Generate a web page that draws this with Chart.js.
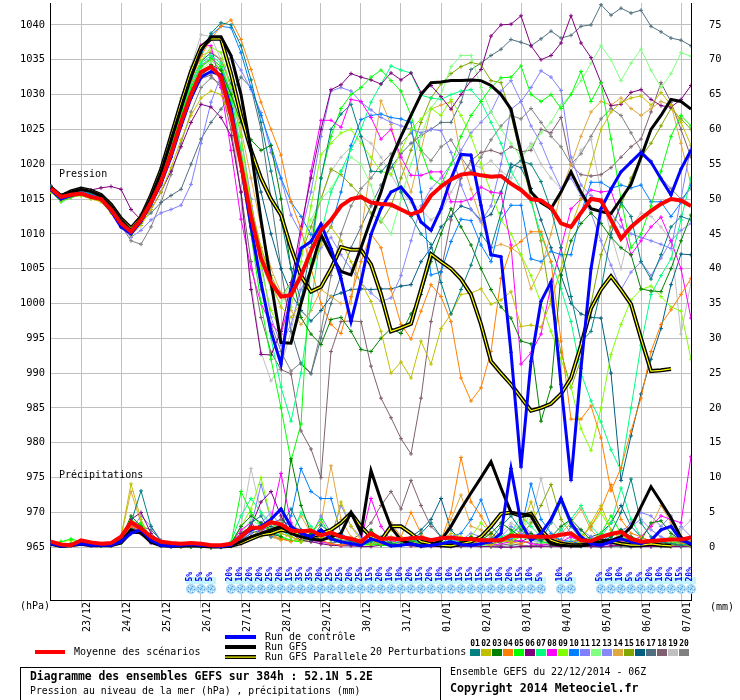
<!DOCTYPE html>
<html><head><meta charset="utf-8">
<script src="https://cdn.jsdelivr.net/npm/chart.js@4.4.1/dist/chart.umd.min.js"></script>
<style>html,body{margin:0;padding:0;background:#fff;}#wrap{width:740px;height:700px;position:relative;}</style>
</head><body><div id="wrap"><canvas id="c" width="740" height="700"></canvas></div>
<script>
// ---- categories (forecast steps, hours from 22/12/2014 06Z) ----
const stepHours = [0,6,12,18,24,30,36,42,48,54,60,66,72,78,84,90,96,102,108,114,120,126,132,138,144,150,156,162,168,174,180,186,192,198,204,210,216,222,228,234,240,246,252,258,264,270,276,282,288,294,300,306,312,318,324,330,336,342,348,354,360,366,372,378,384];
const dayHours = [18,42,66,90,114,138,162,186,210,234,258,282,306,330,354,378];
const dayLabels = ['23/12','24/12','25/12','26/12','27/12','28/12','29/12','30/12','31/12','01/01','02/01','03/01','04/01','05/01','06/01','07/01'];
const pressureTicks = [965,970,975,980,985,990,995,1000,1005,1010,1015,1020,1025,1030,1035,1040];
const precipTicks = [0,5,10,15,20,25,30,35,40,45,50,55,60,65,70,75];
const snowPct = [0,0,0,0,0,0,0,0,0,0,0,0,0,0,5,5,5,0,20,10,20,20,25,20,15,35,35,20,25,25,20,25,15,20,10,10,20,15,20,10,10,15,15,15,15,10,20,15,10,5,0,10,5,0,0,5,10,10,5,5,20,10,20,15,20];

// ---- pressure (hPa) ----
const meanP = [1016.5,1015.3,1015.6,1015.8,1015.3,1015.0,1013.5,1011.5,1010.3,1012.0,
1014.5,1017.5,1021.5,1026.0,1030.0,1033.2,1034.0,1032.5,1027.0,1020.0,
1012.5,1006.5,1003.0,1001.0,1001.2,1004.0,1007.5,1010.5,1012.0,1014.0,
1015.0,1015.3,1014.5,1014.3,1014.2,1013.5,1012.8,1013.3,1015.5,1016.8,
1017.8,1018.5,1018.7,1018.4,1018.2,1018.3,1017.2,1016.3,1015.0,1014.8,
1013.8,1011.5,1011.0,1013.0,1015.0,1014.8,1012.0,1009.3,1011.0,1012.2,
1013.3,1014.3,1015.0,1014.8,1014.0];
const ctrlP = [1016.3,1015.0,1015.5,1015.8,1015.3,1015.0,1013.3,1011.0,1010.0,1011.8,
1014.3,1017.2,1021.0,1025.5,1029.5,1032.5,1033.3,1032.8,1028.0,1020.0,
1011.0,1003.0,996.0,991.3,1001.7,1007.9,1008.9,1011.4,1007.9,1003.6,
997.4,1003.1,1009.9,1013.6,1016.0,1016.7,1015.0,1011.7,1010.5,1013.6,
1017.9,1021.4,1021.3,1014.1,1007.0,1006.7,993.0,976.5,991.7,1000.3,
1003.1,988.4,974.6,990.7,1005.0,1013.6,1016.4,1018.9,1020.3,1021.7,
1020.3,1017.9,1015.6,1019.3,1022.0];
const gfsP = [1016.7,1015.5,1016.0,1016.4,1016.1,1015.5,1014.0,1012.0,1010.5,1012.2,
1015.2,1018.8,1023.4,1028.0,1032.5,1036.3,1038.3,1038.3,1035.6,1030.0,
1022.0,1012.0,1003.0,994.4,994.3,1000.0,1005.0,1009.9,1007.0,1004.6,
1004.1,1008.0,1012.1,1016.0,1020.7,1024.0,1027.0,1030.0,1031.7,1031.8,
1032.0,1032.0,1032.1,1032.0,1031.3,1030.0,1027.9,1021.7,1016.0,1014.5,
1013.6,1016.0,1018.9,1016.0,1013.6,1013.2,1012.9,1015.0,1017.1,1021.0,
1025.0,1027.0,1029.3,1029.0,1027.9];
const parP = [1016.6,1015.4,1016.1,1016.5,1016.2,1015.6,1014.2,1012.2,1010.8,1012.4,
1015.5,1019.2,1024.0,1028.8,1033.3,1036.8,1038.0,1038.0,1033.0,1027.0,
1022.0,1018.0,1015.0,1012.7,1008.0,1004.0,1001.7,1002.4,1005.0,1008.1,
1007.7,1007.7,1005.6,1001.3,996.0,996.5,997.1,1002.0,1007.1,1006.0,
1005.0,1003.5,1001.3,997.0,991.7,990.0,988.4,986.5,984.6,985.0,
985.6,987.0,989.3,994.0,999.3,1002.0,1003.9,1002.0,999.9,995.0,
990.3,990.4,990.6,null,null];
const p01 = [1016.8,1015.2,1015.9,1016.2,1015.8,1015.2,1013.8,1012.0,1010.8,1012.5,
1015.2,1018.5,1023.0,1028.0,1032.5,1036.0,1038.8,1040.3,1040.0,1037.0,
1032.1,1026.0,1019.0,1012.0,1005.0,1000.5,1008.0,1018.0,1025.0,1027.2,
1028.6,1024.0,1019.0,1018.9,1020.5,1016.0,1012.5,1010.0,1008.5,1003.0,
998.5,1002.0,1005.5,1010.0,1008.0,1013.0,1019.5,1020.5,1020.0,1017.5,
1013.5,1008.0,1001.0,994.5,996.0,1002.0,1010.0,1014.5,1012.5,1006.0,
1003.5,1007.0,1011.0,1012.5,1012.0];
const p02 = [1016.0,1014.8,1015.3,1015.5,1015.0,1014.6,1013.0,1011.0,1009.8,1011.2,
1013.5,1016.0,1019.5,1023.5,1027.0,1029.5,1030.5,1030.0,1026.5,1021.0,
1014.0,1008.0,1003.0,999.5,998.0,1000.0,1004.5,1008.5,1011.0,1009.0,
1006.0,1003.0,1000.3,996.0,990.0,991.6,989.3,994.6,991.3,996.4,
998.5,1001.3,1001.5,1002.1,999.9,1000.5,1001.7,996.7,996.9,996.6,
1000.3,1005.0,1011.0,1015.0,1020.0,1025.0,1027.5,1028.9,1029.5,1029.8,
1028.5,1030.3,1028.5,1026.0,1022.7];
const p03 = [1016.3,1015.0,1015.8,1016.5,1016.0,1015.5,1014.0,1011.8,1010.0,1011.5,
1014.0,1017.0,1021.0,1025.5,1029.5,1032.5,1034.3,1033.5,1030.0,1026.0,
1023.5,1022.0,1022.7,1015.0,1005.0,998.0,995.6,994.1,997.7,998.0,
996.0,993.4,993.1,995.0,996.4,995.7,998.5,1001.3,1006.0,1010.0,
1013.6,1011.0,1008.4,1005.0,1002.0,999.5,997.9,994.6,994.2,983.1,
988.0,1004.1,1009.0,1011.5,1013.0,1011.5,1009.5,1008.0,1007.0,1002.1,
1001.8,1001.7,1005.0,1009.0,1012.7];
const p04 = [1016.6,1015.4,1016.0,1016.3,1015.9,1015.3,1013.9,1012.0,1010.6,1012.5,
1015.5,1019.0,1023.5,1028.0,1032.0,1035.5,1038.0,1039.8,1040.7,1037.9,
1033.6,1028.9,1025.0,1021.3,1014.6,1010.7,1005.0,1000.0,997.0,995.7,
1001.0,1006.0,1010.0,1008.0,1002.0,997.0,994.9,998.9,1002.7,1001.0,
997.4,989.3,986.0,987.9,993.1,1003.6,1007.9,1008.9,1010.3,1010.3,
1006.0,994.6,983.4,983.4,985.3,980.7,973.1,976.4,981.7,986.4,
993.1,997.0,999.1,1001.3,1003.6];
const p05 = [1016.0,1014.6,1015.2,1015.6,1015.1,1014.8,1013.2,1011.2,1010.0,1011.8,
1014.6,1018.0,1022.5,1027.0,1031.0,1034.0,1035.2,1034.0,1029.0,1020.0,
1010.0,1000.0,992.0,985.0,977.4,982.7,1006.4,1018.0,1024.0,1028.0,
1030.0,1031.0,1032.5,1033.5,1032.0,1030.5,1027.0,1022.0,1018.0,1017.0,
1020.0,1024.0,1027.0,1029.0,1031.0,1032.4,1032.5,1034.1,1030.0,1029.0,
1030.0,1028.0,1030.0,1033.3,1029.0,1031.7,1023.6,1015.0,1008.0,1010.0,
1014.0,1019.0,1024.0,1027.0,1025.5];
const p06 = [1016.8,1015.5,1016.0,1016.2,1016.3,1016.6,1016.8,1016.4,1013.5,1012.0,
1013.5,1016.0,1019.0,1022.5,1026.0,1028.6,1028.2,1026.7,1024.1,1016.0,
1002.0,992.7,992.6,996.0,1003.0,1011.0,1018.0,1025.0,1030.7,1031.4,
1033.0,1032.5,1032.1,1031.5,1033.1,1032.1,1033.1,1030.3,1031.3,1029.7,
1027.9,1030.0,1032.0,1033.6,1038.4,1040.0,1040.1,1041.3,1037.0,1035.0,
1035.6,1037.4,1041.3,1037.4,1035.3,1031.7,1028.4,1028.6,1030.3,1030.7,
1029.3,1028.4,1028.2,1029.3,1031.3];
const p07 = [1016.2,1014.9,1015.4,1015.7,1015.2,1014.9,1013.4,1011.4,1010.2,1012.0,
1014.8,1018.2,1022.8,1027.5,1031.5,1034.5,1035.6,1034.5,1030.0,1022.0,
1012.0,1003.0,995.0,988.0,983.1,990.0,1000.0,1010.0,1016.0,1019.0,
1022.1,1025.0,1028.9,1031.5,1034.1,1033.5,1033.1,1029.9,1029.5,1029.3,
1030.0,1030.5,1030.7,1029.0,1026.0,1023.0,1019.0,1016.5,1014.6,1009.9,
1006.0,1002.1,997.4,990.0,986.0,983.0,979.0,976.0,985.0,994.0,
1001.3,1004.0,1006.4,1012.0,1018.0];
const p08 = [1016.4,1015.1,1015.7,1016.0,1015.5,1015.1,1013.6,1011.5,1010.2,1012.0,
1015.0,1018.8,1023.5,1028.5,1033.0,1037.1,1037.0,1031.0,1022.0,1012.1,
1005.0,1000.0,997.0,995.6,1001.0,1010.0,1019.0,1026.3,1026.3,1025.3,
1029.3,1029.0,1026.7,1023.6,1025.0,1021.0,1018.4,1018.4,1018.9,1018.9,
1014.6,1014.6,1015.0,1016.7,1016.0,1015.8,1008.4,991.3,992.9,995.6,
1002.6,1008.0,1013.6,1015.0,1016.3,1016.0,1016.2,1012.0,1007.0,1009.0,
1011.0,1012.4,1009.0,1005.0,997.9];
const p09 = [1016.1,1014.8,1015.4,1015.8,1015.3,1014.9,1013.3,1011.3,1010.1,1011.9,
1014.6,1018.0,1022.5,1027.2,1031.5,1034.8,1036.8,1036.0,1031.0,1024.0,
1014.0,1005.0,999.0,996.0,999.5,1006.0,1014.0,1021.4,1023.0,1024.5,
1025.0,1023.0,1021.0,1019.0,1018.5,1022.0,1025.0,1026.5,1028.0,1027.0,
1029.3,1027.0,1024.0,1020.0,1016.0,1012.0,1010.0,1007.0,1004.0,1000.0,
996.0,992.0,988.0,982.0,978.9,985.0,992.7,997.0,1000.5,1002.0,
1002.5,1001.0,999.5,998.9,992.0];
const p10 = [1016.5,1015.2,1015.8,1016.1,1015.7,1015.2,1013.7,1011.8,1010.5,1012.3,
1015.3,1018.8,1023.3,1028.0,1032.3,1035.8,1038.5,1039.8,1039.6,1036.0,
1031.0,1027.0,1022.7,1018.0,1014.6,1012.5,1009.9,1009.0,1011.0,1016.0,
1022.7,1026.4,1027.0,1027.2,1026.7,1026.5,1026.0,1016.0,1004.1,1004.5,
1008.9,1012.1,1011.9,1008.4,1006.0,1012.0,1014.1,1014.1,1006.4,1006.0,
1007.5,1007.0,1007.0,1013.0,1017.4,1017.4,1016.5,1017.0,1016.6,1017.0,
1014.6,1014.6,1012.5,1014.5,1017.0];
const p11 = [1016.2,1015.0,1015.5,1015.8,1015.4,1015.0,1013.5,1011.0,1009.5,1010.5,
1012.0,1013.0,1013.5,1014.1,1017.1,1023.0,1028.9,1032.7,1035.6,1033.5,
1030.7,1027.4,1021.7,1017.9,1012.7,1010.0,1016.0,1024.0,1030.5,1031.0,
1030.5,1028.9,1027.8,1026.7,1026.0,1025.5,1025.0,1024.5,1025.0,1024.8,
1021.7,1017.0,1013.5,1011.7,1014.0,1020.0,1027.9,1029.0,1031.0,1033.4,
1032.5,1030.6,1021.0,1017.0,1015.5,1014.5,1013.0,1011.0,1010.0,1009.5,
1009.0,1008.5,1007.9,1015.0,1022.7];
const p12 = [1016.0,1014.7,1015.3,1015.5,1015.1,1014.7,1013.1,1011.0,1009.8,1011.5,
1014.2,1017.5,1021.8,1026.5,1030.5,1033.5,1034.8,1033.8,1029.5,1022.5,
1013.0,1006.0,1002.0,1000.0,1003.0,1008.0,1012.0,1015.0,1016.5,1019.0,
1021.0,1020.0,1017.0,1012.0,1010.0,1015.0,1020.0,1024.0,1028.0,1030.0,
1034.0,1035.6,1035.6,1031.0,1027.5,1025.0,1023.0,1021.0,1022.5,1024.5,
1026.0,1028.5,1030.0,1032.0,1034.5,1037.0,1035.0,1032.0,1034.5,1036.5,
1033.5,1031.0,1033.0,1036.0,1035.5];
const p13 = [1016.3,1015.1,1015.6,1016.0,1015.6,1015.1,1013.6,1011.6,1010.4,1012.1,
1014.9,1018.3,1022.6,1027.0,1031.0,1034.2,1035.3,1034.0,1030.5,1024.0,
1015.0,1006.0,998.0,994.0,997.0,1002.0,1005.0,1008.0,1009.5,1007.0,
1005.0,1003.0,1001.5,1000.3,1000.8,1004.0,1009.0,1014.0,1016.5,1018.0,
1020.0,1022.0,1024.5,1026.0,1027.5,1030.5,1032.0,1029.0,1025.5,1023.0,
1019.5,1016.5,1018.0,1015.5,1013.0,1009.0,1005.5,1002.0,1004.5,1006.0,
1004.0,1006.5,1009.0,1010.5,1011.5];
const p14 = [1016.5,1015.3,1015.9,1016.4,1016.0,1015.4,1013.9,1011.9,1010.7,1012.6,
1015.4,1019.0,1023.6,1028.3,1032.6,1035.6,1036.2,1035.0,1031.0,1025.0,
1018.0,1011.0,1005.0,1001.5,999.0,997.0,999.0,1002.0,1001.0,1000.0,
1000.0,1010.0,1020.0,1029.1,1025.7,1020.0,1016.0,1022.0,1027.9,1028.5,
1029.0,1021.0,1016.4,1012.0,1008.0,1008.5,1008.0,1007.0,1002.1,1005.0,
1010.0,1016.0,1020.0,1024.0,1027.5,1029.0,1028.5,1029.5,1028.0,1027.0,
1028.0,1029.0,1028.5,1023.0,1017.0];
const p15 = [1016.2,1014.9,1015.4,1015.9,1015.4,1015.0,1013.4,1011.3,1010.0,1011.6,
1014.3,1017.6,1022.0,1026.8,1031.0,1034.0,1035.0,1033.5,1029.0,1022.0,
1014.0,1008.0,1004.0,1001.0,1003.0,1007.0,1011.0,1015.0,1019.3,1018.5,
1017.0,1015.5,1013.0,1011.7,1014.0,1018.0,1022.0,1026.0,1029.5,1031.5,
1033.0,1034.0,1034.6,1034.3,1032.0,1031.7,1027.0,1021.0,1015.0,1009.0,
1000.0,993.0,987.9,992.0,1000.0,1007.0,1011.0,1014.0,1018.0,1021.0,
1023.0,1025.5,1028.0,1026.5,1025.0];
const p16 = [1016.4,1015.0,1015.6,1016.0,1015.5,1015.1,1013.6,1011.6,1010.3,1012.0,
1014.8,1018.2,1022.7,1027.4,1031.6,1034.8,1036.0,1035.0,1031.5,1027.0,
1022.0,1016.0,1010.0,1005.0,1001.5,999.0,997.5,999.0,1001.0,1001.5,
1002.0,1002.1,1002.0,1002.1,1002.1,1002.5,1002.7,1006.0,1008.0,1011.0,
1012.5,1014.0,1013.5,1012.0,1012.8,1016.0,1020.0,1019.5,1016.5,1012.0,
1008.0,1004.0,1000.0,998.5,998.0,997.9,990.0,974.6,981.0,987.0,
992.0,996.4,1002.7,1007.1,1007.0];
const p17 = [1016.7,1015.4,1016.0,1016.4,1016.0,1015.5,1014.0,1012.0,1010.5,1011.8,
1013.0,1014.5,1015.5,1016.4,1020.0,1023.6,1026.0,1027.9,1030.0,1032.5,
1031.0,1025.0,1015.0,1005.0,996.0,991.3,989.9,995.0,1000.0,1004.0,
1008.0,1011.0,1014.0,1017.0,1019.5,1021.5,1023.0,1024.1,1025.0,1026.0,
1026.0,1028.9,1033.6,1034.5,1035.6,1036.5,1037.9,1037.5,1037.0,1038.0,
1039.1,1038.1,1038.5,1039.8,1040.0,1042.9,1041.4,1042.4,1041.7,1042.1,
1039.8,1039.0,1038.1,1037.8,1037.0];
const p18 = [1016.9,1015.6,1016.1,1016.3,1015.9,1015.4,1013.9,1012.2,1011.0,1012.8,
1015.2,1018.4,1022.4,1026.5,1030.0,1032.3,1032.8,1031.0,1025.0,1016.0,
1006.0,998.0,993.0,990.5,989.9,981.7,979.1,975.0,993.1,997.4,
997.5,997.4,991.0,986.4,983.6,980.6,978.4,986.4,997.4,1004.6,
1012.0,1018.0,1020.5,1021.7,1022.0,1021.5,1022.5,1021.8,1022.0,1025.0,
1024.5,1026.7,1019.9,1018.5,1018.3,1018.5,1019.5,1021.0,1022.5,1023.6,
1027.5,1031.7,1028.9,1025.0,1021.0];
const p19 = [1016.6,1015.3,1015.8,1016.1,1015.6,1015.2,1013.7,1011.7,1010.4,1012.4,
1015.6,1019.5,1024.5,1029.5,1034.0,1038.6,1038.3,1035.0,1028.0,1015.0,
1003.0,993.0,988.9,991.0,996.0,1003.0,1010.0,1015.0,1019.0,1021.0,
1022.5,1024.0,1023.0,1021.0,1018.5,1016.0,1014.5,1013.5,1012.0,1013.0,
1016.0,1018.5,1020.0,1019.5,1020.5,1019.0,1018.0,1021.0,1023.0,1020.0,
1018.0,1016.5,1019.0,1022.0,1023.6,1016.0,1010.0,1005.0,1011.0,1013.0,
1012.5,1011.0,1009.0,995.6,1003.0];
const p20 = [1016.2,1014.9,1015.5,1015.7,1015.3,1014.9,1013.3,1011.2,1009.0,1008.5,
1011.0,1014.5,1018.5,1023.0,1027.5,1031.0,1032.4,1031.5,1027.5,1019.0,
1010.0,1002.0,997.0,993.1,990.3,991.5,990.0,996.0,1004.0,1010.0,
1014.0,1016.5,1018.0,1020.0,1021.5,1023.0,1024.5,1022.0,1020.5,1022.5,
1023.5,1021.0,1019.0,1021.0,1023.5,1025.5,1027.0,1026.5,1028.0,1026.0,
1024.0,1022.5,1020.0,1021.5,1024.0,1026.5,1028.0,1027.0,1024.5,1022.0,
1020.5,1018.0,1016.5,1015.0,1016.5];

// ---- precipitation (mm) ----
const meanR = [0.8,0.4,0.3,1.0,0.7,0.5,0.6,1.5,3.6,2.7,
1.5,0.8,0.6,0.5,0.6,0.5,0.3,0.3,0.5,1.5,
2.8,2.8,3.6,3.3,2.4,2.3,2.4,1.7,2.1,1.5,
1.2,0.8,2.0,1.2,1.3,1.1,1.3,1.4,1.0,1.3,
1.4,1.2,1.2,1.0,1.0,1.0,1.7,1.6,1.5,1.5,
1.5,1.8,2.0,1.0,0.9,1.5,1.9,2.2,1.2,0.8,
0.9,1.0,1.1,1.1,1.4];
const ctrlR = [0.5,0.2,0.3,0.5,0.3,0.3,0.3,0.8,2.0,2.5,
1.0,0.3,0.2,0.3,0.4,0.3,0.2,0.1,0.3,1.5,
2.5,3.0,4.0,5.5,3.0,2.0,1.5,2.5,1.2,0.8,
0.5,0.3,1.2,0.8,0.2,0.3,0.5,0.2,0.3,0.5,
0.8,0.4,0.3,0.5,0.8,2.0,11.3,3.5,1.0,2.0,
4.0,7.0,3.5,1.5,0.5,0.3,0.8,1.2,0.8,0.5,
1.0,2.5,3.0,1.0,0.5];
const gfsR = [0.5,0.2,0.3,0.6,0.4,0.3,0.3,0.8,2.5,2.0,
0.8,0.3,0.2,0.2,0.3,0.2,0.1,0.1,0.2,0.8,
1.5,2.0,2.5,3.0,2.0,1.5,1.2,1.0,1.5,2.0,
5.0,2.0,11.0,6.7,2.9,1.0,0.5,0.2,0.3,1.0,
3.0,5.5,7.8,10.0,12.3,8.5,5.0,4.8,4.5,2.0,
0.5,0.3,0.2,0.2,0.5,0.8,1.0,1.5,2.9,5.8,
8.7,6.5,4.2,1.4,0.3];
const parR = [0.5,0.2,0.3,0.5,0.3,0.3,0.3,0.7,2.2,2.2,
0.8,0.3,0.2,0.2,0.3,0.2,0.1,0.1,0.2,0.6,
1.2,1.8,2.0,2.5,2.2,1.8,1.5,2.0,2.5,3.5,
4.9,3.0,1.5,1.0,3.0,3.0,2.0,0.8,0.5,0.3,
0.2,0.5,0.8,1.5,3.0,4.8,5.0,4.5,4.8,2.5,
1.0,0.5,0.3,0.3,0.5,1.0,0.8,0.5,0.3,0.3,
0.5,0.3,0.2,null,null];
const r01 = [0.5,0.2,0.4,0.6,0.3,0.2,0.3,1.0,3.5,8.1,3.0,0.8,0.3,0.2,0.2,0.1,0.1,0.0,0.2,1.0,3.5,4.5,2.0,3.0,5.5,2.5,1.0,3.2,2.0,1.5,0.8,0.5,0.8,1.5,0.6,0.3,1.2,2.0,3.5,1.5,0.8,0.5,0.3,0.6,1.2,3.0,4.5,2.5,1.2,1.0,3.5,6.5,3.0,1.2,0.5,0.6,2.0,5.0,9.8,3.5,1.5,0.8,0.5,0.3,0.4];
const r02 = [0.4,0.3,0.6,0.8,0.4,0.3,0.4,1.5,9.1,4.0,1.0,0.4,0.2,0.1,0.2,0.1,0.1,0.1,0.3,1.5,2.5,1.5,3.5,2.0,1.5,0.8,2.5,1.5,1.0,6.5,3.0,1.0,0.5,0.8,2.5,1.0,0.4,0.3,0.5,1.0,2.0,1.5,0.8,0.5,0.3,1.0,0.8,2.5,6.5,2.0,1.0,0.5,0.3,0.8,3.5,6.0,2.5,1.0,0.5,0.3,0.5,1.0,0.5,0.3,0.2];
const r03 = [0.6,0.3,0.5,0.8,0.4,0.3,0.4,1.2,4.5,3.0,1.0,0.3,0.2,0.2,0.1,0.1,0.1,0.1,0.5,3.0,4.5,3.5,2.0,1.5,12.7,6.0,2.0,1.0,1.5,0.8,0.5,0.8,2.5,1.0,0.5,0.3,0.6,1.5,0.8,0.5,0.5,0.8,1.5,1.0,2.0,3.5,2.5,1.5,2.0,1.0,1.5,3.0,4.0,2.5,1.0,0.5,1.5,2.5,1.5,1.0,3.5,3.8,2.0,1.0,0.5];
const r04 = [0.5,0.2,0.3,0.5,0.4,0.3,0.3,0.8,3.0,2.5,0.8,0.3,0.2,0.1,0.1,0.1,0.0,0.0,0.1,0.5,1.5,2.0,1.8,1.2,0.8,1.5,2.5,1.0,0.5,0.3,0.5,0.8,1.0,0.5,3.5,1.5,5.0,2.0,0.5,1.0,5.0,12.9,6.5,4.5,2.0,1.0,0.8,0.5,1.0,2.0,1.5,0.8,0.5,1.5,3.0,5.5,9.0,4.0,2.0,1.5,0.8,0.5,0.3,0.5,0.8];
const r05 = [0.4,0.8,1.2,0.8,0.5,0.3,0.3,0.6,2.5,3.5,1.0,0.5,0.3,0.2,0.1,0.1,0.0,0.1,0.5,8.0,5.0,3.0,2.5,1.5,1.0,0.8,2.0,4.0,1.5,0.8,0.5,0.3,0.5,0.3,0.2,0.5,1.0,0.5,0.3,0.3,0.5,0.3,0.8,1.5,1.0,0.8,2.0,3.0,1.5,0.8,0.5,0.8,0.3,0.5,1.0,2.0,4.5,2.0,1.0,0.5,0.5,0.3,0.5,1.0,0.8];
const r06 = [0.8,0.3,0.4,0.7,0.5,0.4,0.5,1.5,4.0,5.0,2.0,0.6,0.2,0.2,0.2,0.1,0.1,0.1,0.5,2.0,3.0,6.5,8.0,4.5,2.0,1.0,0.8,0.5,0.3,0.2,0.2,0.1,0.1,0.3,0.5,0.3,0.2,0.1,0.1,0.1,0.1,0.1,0.2,0.1,0.1,0.0,0.0,0.1,0.1,0.1,0.2,0.1,0.1,0.2,0.1,0.1,0.2,0.3,0.2,0.1,0.1,0.2,0.1,0.1,0.2];
const r07 = [0.5,0.3,0.4,0.6,0.3,0.2,0.3,1.0,3.5,3.0,1.0,0.3,0.2,0.1,0.1,0.1,0.0,0.1,0.8,4.5,7.0,5.0,3.5,2.5,1.5,5.0,3.0,1.5,1.0,0.8,0.5,0.3,0.8,0.5,0.3,1.0,0.5,0.3,0.8,1.5,1.0,0.6,0.5,0.3,0.8,1.5,2.0,4.5,3.0,1.5,0.8,2.5,4.0,6.0,3.0,1.5,3.5,8.5,4.0,1.5,0.8,0.5,0.3,0.5,0.5];
const r08 = [0.5,0.2,0.3,0.5,0.3,0.3,0.3,0.8,3.0,2.0,0.6,0.2,0.1,0.1,0.1,0.1,0.0,0.1,0.5,2.5,3.5,2.0,4.0,10.6,3.5,1.5,1.0,0.8,0.5,0.3,0.5,1.0,7.0,3.0,1.0,0.5,0.3,0.5,0.3,0.2,0.3,0.5,0.8,0.5,0.3,0.5,0.8,1.0,0.5,0.3,0.5,0.8,1.5,0.8,0.5,0.3,0.5,0.8,1.0,1.5,3.0,4.5,4.0,3.5,13.0];
const r09 = [0.6,0.8,1.0,0.6,0.4,0.3,0.4,1.0,3.0,2.5,0.8,0.3,0.1,0.1,0.1,0.1,0.0,0.1,0.6,3.0,5.5,10.0,4.0,2.0,1.5,1.0,0.8,1.5,2.5,1.0,0.6,0.4,0.3,0.5,0.8,0.5,0.3,0.5,1.0,0.8,0.5,0.8,1.5,3.5,2.0,1.0,0.5,2.5,5.0,2.0,1.0,0.8,0.5,1.5,3.0,5.0,2.5,1.5,1.0,0.8,0.5,0.8,1.5,1.0,0.5];
const r10 = [0.5,0.2,0.3,0.6,0.3,0.3,0.3,0.9,3.2,2.8,0.7,0.2,0.1,0.1,0.1,0.1,0.0,0.1,0.3,1.5,2.5,3.0,1.5,2.0,4.5,11.3,8.0,7.0,7.0,2.0,1.0,0.6,0.5,0.4,0.3,0.5,1.0,0.6,0.4,0.5,1.5,2.0,4.0,6.8,3.0,1.5,1.0,2.5,9.1,4.0,2.0,1.0,0.8,0.5,0.5,0.8,1.5,2.5,1.5,0.8,0.5,0.8,1.5,1.0,0.5];
const r11 = [0.4,0.2,0.3,0.5,0.4,0.3,0.3,0.8,2.5,4.5,3.0,1.0,0.4,0.2,0.1,0.1,0.1,0.1,0.3,1.5,3.0,9.0,4.0,2.5,1.5,1.0,1.5,4.5,2.0,1.0,0.8,0.5,0.4,0.3,0.5,0.8,1.5,1.0,0.6,0.5,0.8,1.0,0.6,0.5,0.8,1.5,3.0,2.0,1.0,0.8,0.6,0.8,3.0,2.5,1.5,0.8,0.5,2.0,3.5,5.0,4.5,3.0,4.5,1.5,0.8];
const r12 = [0.5,0.4,0.6,0.8,0.4,0.3,0.3,0.9,3.0,3.5,1.2,0.5,0.2,0.1,0.1,0.1,0.0,0.1,0.4,2.0,4.0,3.0,2.5,1.5,1.0,0.8,1.2,2.0,1.0,0.6,0.5,0.4,0.3,0.8,1.5,0.8,0.5,0.3,0.2,0.3,0.5,0.8,0.5,0.3,0.2,0.5,1.0,1.5,1.0,0.5,0.3,0.5,1.0,2.0,1.0,0.5,0.3,0.5,0.8,0.5,0.3,0.5,0.8,0.5,0.3];
const r13 = [0.5,0.2,0.3,0.5,0.3,0.2,0.3,0.8,3.0,2.5,0.8,0.3,0.1,0.1,0.1,0.1,0.0,0.1,0.4,1.2,2.0,3.5,5.0,3.0,2.0,1.5,1.0,0.8,1.5,6.0,3.0,1.5,1.0,0.8,0.5,0.8,1.5,1.0,0.8,0.5,0.8,1.0,2.0,1.5,1.0,0.8,1.5,3.5,2.0,1.5,1.0,2.5,1.5,1.0,0.8,0.6,1.5,2.5,3.0,4.0,2.5,1.5,1.0,3.0,1.5];
const r14 = [0.5,0.3,0.5,0.7,0.4,0.3,0.4,1.5,8.0,3.5,1.0,0.3,0.2,0.1,0.1,0.1,0.0,0.1,0.3,1.0,1.5,2.0,1.5,1.0,2.0,4.5,2.0,3.5,11.7,4.0,1.5,1.0,0.5,0.8,1.5,1.0,0.8,0.6,0.5,0.5,4.0,7.5,3.0,2.5,1.5,1.0,0.8,2.0,1.5,1.0,0.8,2.0,3.5,5.5,2.5,1.0,0.8,0.6,0.5,1.5,3.0,6.0,3.5,1.5,0.8];
const r15 = [0.5,0.3,0.4,0.6,0.4,0.3,0.3,1.0,4.0,3.0,1.0,0.4,0.2,0.1,0.1,0.1,0.0,0.1,0.4,2.0,3.0,2.5,1.5,1.2,1.0,0.8,1.5,2.5,1.5,1.0,0.8,0.5,1.0,0.8,0.5,0.6,0.8,0.5,0.4,0.5,0.6,0.8,1.0,1.5,2.0,1.0,0.8,1.5,3.5,6.0,9.0,4.0,2.0,1.0,0.8,0.5,0.8,1.5,1.0,0.8,0.6,0.5,0.8,0.6,0.5];
const r16 = [0.5,0.2,0.3,0.5,0.3,0.3,0.3,0.8,2.8,2.5,0.8,0.2,0.1,0.1,0.1,0.1,0.0,0.1,0.3,1.0,2.0,2.5,3.0,2.5,2.0,1.5,1.0,1.5,2.0,1.5,1.0,0.8,0.5,0.6,0.8,1.0,1.5,2.5,4.0,7.0,2.5,1.0,0.5,0.3,0.5,0.8,1.0,0.8,1.5,2.0,1.5,1.0,0.8,1.0,1.5,2.0,3.5,6.0,3.0,1.5,0.8,0.6,0.5,0.8,0.6];
const r17 = [0.4,0.3,0.4,0.6,0.3,0.3,0.3,0.7,2.0,3.0,2.5,1.0,0.3,0.2,0.1,0.1,0.0,0.1,0.2,0.8,1.5,2.5,3.5,3.0,2.0,1.5,1.0,0.8,0.6,0.8,1.0,0.8,0.5,0.3,0.2,0.3,0.5,0.3,0.2,0.2,0.3,0.2,0.1,0.2,0.1,0.1,0.2,0.1,0.1,0.2,0.1,0.1,0.2,0.1,0.1,0.0,0.1,0.1,0.0,0.1,0.1,0.1,0.2,0.1,0.1];
const r18 = [0.5,0.2,0.4,0.6,0.4,0.3,0.3,0.8,3.0,2.5,0.8,0.3,0.1,0.1,0.1,0.1,0.0,0.1,0.3,1.5,2.5,3.0,3.5,4.0,3.0,2.5,2.0,1.5,1.0,0.8,1.0,2.0,3.5,6.0,8.0,5.5,9.6,6.0,3.0,1.5,1.0,0.8,0.5,0.3,0.2,0.3,0.5,0.3,0.2,0.3,0.5,0.8,0.5,0.3,0.2,0.3,0.5,0.8,0.5,0.3,0.2,0.3,0.2,0.3,0.2];
const r19 = [0.5,0.3,0.4,0.6,0.3,0.3,0.3,0.8,3.0,2.0,0.7,0.3,0.1,0.1,0.1,0.1,0.0,0.1,0.5,3.0,11.3,5.0,3.0,2.0,1.5,1.0,0.8,0.6,0.5,0.3,0.3,0.5,0.8,0.5,0.3,0.5,1.0,0.8,0.5,0.3,0.5,0.3,0.5,1.0,1.5,2.0,3.5,2.5,4.0,9.9,4.0,2.0,1.0,0.8,0.5,0.5,1.0,2.0,1.5,0.8,0.5,1.0,1.5,2.5,3.9];
const r20 = [0.4,0.2,0.3,0.5,0.3,0.2,0.3,0.7,2.5,2.2,0.7,0.2,0.1,0.1,0.1,0.1,0.0,0.1,0.2,1.0,2.0,3.5,2.5,4.0,3.0,2.0,1.5,1.5,2.5,1.5,1.0,0.6,0.5,0.4,0.5,0.8,0.6,0.4,0.3,0.4,0.5,0.8,0.6,0.4,0.5,0.8,1.2,0.8,0.6,0.5,0.4,0.6,0.8,0.5,0.4,0.5,0.8,1.2,0.8,0.5,0.4,0.5,0.6,0.5,0.4];

const pertColors = ['#008080','#c0c000','#008000','#ff8000','#00ff00','#800080','#00ff80','#ff00ff','#80ff00','#0080ff','#8080ff','#80ff80','#8888f8','#e0a840','#80a800','#005f80','#507080','#806070','#c0c0c0','#808080'];
const pertP = [p01,p02,p03,p04,p05,p06,p07,p08,p09,p10,p11,p12,p13,p14,p15,p16,p17,p18,p19,p20];
const pertR = [r01,r02,r03,r04,r05,r06,r07,r08,r09,r10,r11,r12,r13,r14,r15,r16,r17,r18,r19,r20];

const MONO = "'DejaVu Sans Mono', monospace";
Chart.defaults.font.family = MONO;

function line(data, axis, color, width, marks) {
  return {data, yAxisID: axis, borderColor: color, backgroundColor: color, borderWidth: width,
    fill: false, tension: 0, spanGaps: false,
    pointStyle: 'cross', pointRadius: marks ? 2 : 0, pointBorderWidth: 1, pointBorderColor: color, pointHoverRadius: 0};
}
const datasets = [];
datasets.push(line(meanP, 'y', '#ff0000', 4, false));
datasets.push(line(meanR, 'y2', '#ff0000', 4, false));
datasets.push(line(ctrlP, 'y', '#0000ff', 3, true));
datasets.push(line(ctrlR, 'y2', '#0000ff', 3, true));
datasets.push(line(gfsP, 'y', '#000000', 3, false));
datasets.push(line(gfsR, 'y2', '#000000', 3, false));
datasets.push(line(parP, 'y', '#ffff00', 1.2, false));
datasets.push(line(parP, 'y', '#000000', 4, false));
datasets.push(line(parR, 'y2', '#ffff00', 1.2, false));
datasets.push(line(parR, 'y2', '#000000', 4, false));
for (let k = 0; k < 20; k++) {
  datasets.push(line(pertP[k], 'y', pertColors[k], 1, true));
  datasets.push(line(pertR[k], 'y2', pertColors[k], 1, true));
}

function txt(ctx, s, x, y, font, color, align) {
  ctx.font = font; ctx.fillStyle = color || '#000'; ctx.textAlign = align || 'left'; ctx.textBaseline = 'middle';
  ctx.fillText(s, x, y);
}

const decor = {
  id: 'decor',
  afterDatasetsDraw(chart) {
    const ctx = chart.ctx;
    txt(ctx, 'Pression', 59, 174, '10px ' + MONO);
    txt(ctx, 'Précipitations', 59, 475.5, '10px ' + MONO);
  },
  afterDraw(chart) {
    const ctx = chart.ctx, xs = chart.scales.x;
    ctx.save();
    // snow row
    for (let i = 0; i < snowPct.length; i++) {
      if (!snowPct[i]) continue;
      const x = Math.round(xs.getPixelForValue(stepHours[i]));
      ctx.fillStyle = '#c6f4ff';
      ctx.fillRect(x - 5, 577, 10, 7);
      ctx.fillStyle = '#a4d4f0';
      ctx.beginPath(); ctx.arc(x, 589, 5, 0, Math.PI * 2); ctx.fill();
      ctx.fillStyle = '#4a9ae0';
      [[-3,-2],[1,-3],[-1,0],[3,0],[-3,2],[1,3],[0,-1]].forEach(p => ctx.fillRect(x + p[0], 589 + p[1], 1, 1));
      ctx.fillStyle = '#ffffff';
      [[-2,-3],[2,-1],[-2,1],[2,2],[0,2]].forEach(p => ctx.fillRect(x + p[0], 589 + p[1], 1, 1));
      ctx.save();
      ctx.translate(x - 1.5, 581.5);
      ctx.rotate(-Math.PI / 2);
      txt(ctx, snowPct[i] + '%', 0, 0, 'bold 8px ' + MONO, '#0000ff', 'left');
      ctx.restore();
    }
    // axis units
    txt(ctx, '(hPa)', 20, 606.5, '10px ' + MONO);
    txt(ctx, '(mm)', 710, 607.5, '10px ' + MONO);
    // legend lines
    ctx.fillStyle = '#ff0000'; ctx.fillRect(35, 650, 30, 4);
    txt(ctx, 'Moyenne des scénarios', 74, 652, '10px ' + MONO);
    ctx.fillStyle = '#0000ff'; ctx.fillRect(225, 635, 31, 4);
    txt(ctx, 'Run de contrôle', 265, 637, '10px ' + MONO);
    ctx.fillStyle = '#000000'; ctx.fillRect(225, 645, 31, 4);
    txt(ctx, 'Run GFS', 265, 647, '10px ' + MONO);
    ctx.fillStyle = '#000000'; ctx.fillRect(225, 655, 31, 4);
    ctx.fillStyle = '#ffff00'; ctx.fillRect(225, 656.5, 31, 1.2);
    txt(ctx, 'Run GFS Parallele', 265, 657, '10px ' + MONO);
    txt(ctx, '20 Perturbations', 370, 652, '10px ' + MONO);
    for (let k = 0; k < 20; k++) {
      const x0 = 470 + 11 * k;
      ctx.fillStyle = pertColors[k]; ctx.fillRect(x0, 649, 10, 7);
      txt(ctx, (k < 9 ? '0' : '') + (k + 1), x0 + 5, 643.5, 'bold 8px ' + MONO, '#000', 'center');
    }
    // title box
    ctx.strokeStyle = '#000'; ctx.lineWidth = 1;
    ctx.strokeRect(20.5, 667.5, 420, 40);
    txt(ctx, 'Diagramme des ensembles GEFS sur 384h : 52.1N 5.2E', 30, 677.5, 'bold 11.4px ' + MONO);
    txt(ctx, 'Pression au niveau de la mer (hPa) , précipitations (mm)', 30, 691.5, '9.8px ' + MONO);
    txt(ctx, 'Ensemble GEFS du 22/12/2014 - 06Z', 450, 672, '9.9px ' + MONO);
    txt(ctx, 'Copyright 2014 Meteociel.fr', 450, 689, 'bold 11.6px ' + MONO);
    ctx.restore();
  }
};

new Chart(document.getElementById('c'), {
  type: 'line',
  data: {labels: stepHours, datasets},
  plugins: [decor],
  options: {
    responsive: false, animation: false, devicePixelRatio: 1,
    layout: {padding: 0},
    events: [],
    plugins: {legend: {display: false}, tooltip: {enabled: false}},
    scales: {
      x: {
        type: 'linear', position: 'bottom', min: -0.6, max: 384,
        afterBuildTicks: s => { s.ticks = dayHours.map(v => ({value: v})); },
        afterFit: s => { s.height = 100; s.paddingLeft = 0; s.paddingRight = 0; },
        ticks: {autoSkip: false, minRotation: 90, maxRotation: 90, labelOffset: 6, padding: -6,
          font: {family: MONO, size: 10}, color: '#000',
          callback: (v, i) => dayLabels[i]},
        grid: {color: '#c0c0c0', lineWidth: 1, tickLength: 8, drawTicks: true},
        border: {display: true, color: '#000', width: 1}
      },
      y: {
        type: 'linear', position: 'left', min: 965 - 53 / 7, max: 1040 + 22 / 7,
        afterBuildTicks: s => { s.ticks = pressureTicks.map(v => ({value: v})); },
        afterFit: s => { s.width = 50; s.paddingTop = 0; s.paddingBottom = 0; },
        ticks: {padding: 5, font: {family: MONO, size: 10.4}, color: '#000', callback: v => String(v)},
        grid: {color: '#c0c0c0', lineWidth: 1, drawTicks: false},
        border: {display: true, color: '#000', width: 1}
      },
      y2: {
        type: 'linear', position: 'right', min: -53 / 7, max: 75 + 22 / 7,
        afterBuildTicks: s => { s.ticks = precipTicks.map(v => ({value: v})); },
        afterFit: s => { s.width = 49; s.paddingTop = 0; s.paddingBottom = 0; },
        ticks: {padding: 18, font: {family: MONO, size: 10.4}, color: '#000', callback: v => String(v)},
        grid: {display: false, drawTicks: false},
        border: {display: true, color: '#000', width: 1}
      }
    }
  }
});
</script>
</body></html>
